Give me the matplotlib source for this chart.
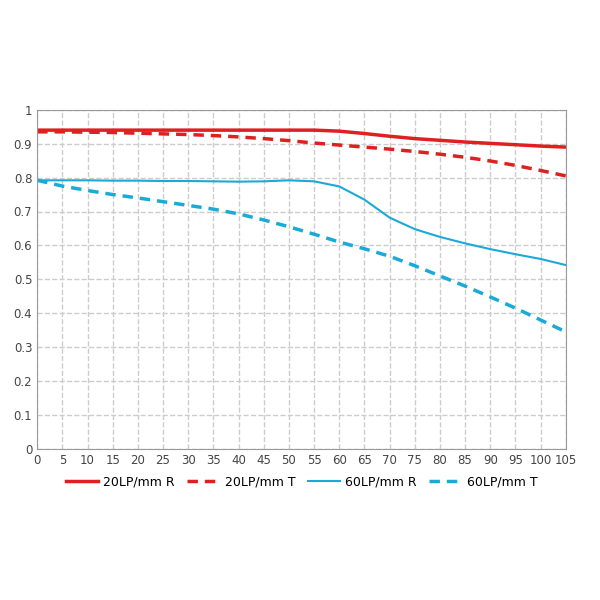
import matplotlib.pyplot as plt

x = [0, 5, 10, 15, 20, 25, 30, 35, 40, 45, 50, 55, 60, 65, 70, 75, 80, 85, 90, 95, 100, 105]
r20 = [0.940, 0.940, 0.940, 0.940, 0.940, 0.940, 0.940, 0.940, 0.940, 0.940, 0.940, 0.940, 0.937, 0.930, 0.922, 0.915, 0.910, 0.905, 0.901, 0.897, 0.893, 0.890]
t20 = [0.935, 0.935, 0.934, 0.933, 0.931, 0.929, 0.927, 0.924, 0.920, 0.915, 0.909, 0.902, 0.896, 0.890, 0.884, 0.877, 0.869, 0.860, 0.849, 0.836, 0.821, 0.805]
r60 = [0.792, 0.792, 0.792, 0.791, 0.791, 0.790, 0.790, 0.789, 0.788, 0.789, 0.792, 0.789, 0.774, 0.735, 0.682, 0.648, 0.625, 0.606, 0.589, 0.574, 0.560, 0.542]
t60 = [0.792, 0.775, 0.762, 0.750, 0.740, 0.729, 0.718, 0.707, 0.693, 0.675, 0.655, 0.633, 0.610, 0.590, 0.568, 0.540, 0.510, 0.480, 0.448, 0.415, 0.380, 0.345]

red = '#e02020'
blue = '#1aaad8'

fig, ax = plt.subplots(figsize=(6, 6), dpi=100)
fig.subplots_adjust(left=0.062, right=0.943, top=0.817, bottom=0.252)
ax.plot(x, r20, color=red, lw=2.5, label='20LP/mm R')
ax.plot(x, t20, color=red, lw=2.5, ls=(0, (3, 2)), label='20LP/mm T')
ax.plot(x, r60, color=blue, lw=1.5, label='60LP/mm R')
ax.plot(x, t60, color=blue, lw=2.5, ls=(0, (3, 2)), label='60LP/mm T')

ax.set_xlim(0, 105)
ax.set_ylim(0, 1)
ax.set_xticks(range(0, 106, 5))
ax.set_yticks([i / 10 for i in range(11)])
ax.set_yticklabels(['0', '0.1', '0.2', '0.3', '0.4', '0.5', '0.6', '0.7', '0.8', '0.9', '1'])
ax.grid(True, color='#cccccc', ls='--', lw=1)
ax.tick_params(length=0, labelsize=8.5, colors='#444444')
for s in ax.spines.values():
    s.set_color('#999999')
ax.legend(loc='upper center', bbox_to_anchor=(0.5, -0.045), ncol=4, frameon=False,
          fontsize=9, handlelength=2.6, columnspacing=1.0, handletextpad=0.4)
fig.savefig('out.png')
